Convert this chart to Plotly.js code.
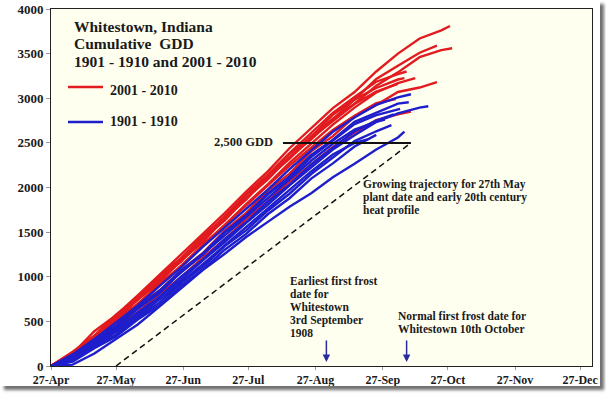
<!DOCTYPE html>
<html>
<head>
<meta charset="utf-8">
<script src="https://cdn.plot.ly/plotly-3.0.1.min.js"></script>
<style>
  html, body { margin: 0; padding: 0; background: #ffffff; }
  #chart { position: absolute; left: 0; top: 0; width: 600px; height: 386px;
           box-shadow: 4px 4px 3px #707070; background: #ffffff; }
</style>
</head>
<body>
<div id="chart"></div>
<script>
// ---- Data ----
// sample dates every 10 days from 27-Apr
const gridDates = ['2001-04-27','2001-05-07','2001-05-17','2001-05-27','2001-06-06','2001-06-16',
  '2001-06-26','2001-07-06','2001-07-16','2001-07-26','2001-08-05','2001-08-15','2001-08-25',
  '2001-09-04','2001-09-14','2001-09-24','2001-10-04','2001-10-14','2001-10-24'];

// 2001 - 2010 cumulative GDD (red); last value belongs to the end date
const redEnds = ['2001-10-28','2001-10-29','2001-10-22','2001-10-07','2001-10-12',
  '2001-10-22','2001-10-10','2001-10-03','2001-10-04','2001-10-08'];
const redLines = [
  [0,140,390,570,790,1020,1240,1480,1710,1955,2180,2440,2660,2890,3070,3300,3500,3670,3760,3810],
  [0,135,320,550,740,970,1170,1420,1630,1880,2090,2340,2540,2770,2940,3140,3290,3460,3540,3560],
  [0,160,340,575,765,1015,1205,1455,1655,1915,2115,2375,2565,2815,2985,3215,3365,3510,3590],
  [0,120,335,505,745,935,1185,1385,1655,1865,2125,2325,2575,2765,2985,3115,3210,3225],
  [0,115,295,505,695,905,1115,1355,1575,1815,2035,2275,2485,2705,2895,3065,3170,3225],
  [0,100,295,455,675,845,1075,1265,1515,1715,1965,2155,2405,2575,2795,2925,3070,3120,3180],
  [0,95,255,435,605,805,995,1215,1415,1645,1845,2065,2255,2455,2615,2755,2820,2850],
  [0,130,305,505,695,915,1125,1355,1575,1805,2015,2245,2445,2645,2805,2945,2990],
  [0,140,335,525,745,955,1185,1405,1655,1875,2115,2325,2555,2745,2935,3075,3160],
  [0,150,335,555,765,995,1205,1445,1675,1925,2145,2385,2605,2835,3015,3185,3270,3300]
];

// 1901 - 1910 cumulative GDD (blue)
const blueEnds = ['2001-10-10','2001-10-09','2001-10-18','2001-10-07','2001-10-02',
  '2001-09-28','2001-10-01','2001-10-05','2001-09-24','2001-09-20'];
const blueLines = [
  [0,130,300,485,675,895,1105,1335,1545,1765,1975,2205,2415,2625,2785,2925,3010,3045],
  [0,100,280,425,645,815,1055,1245,1495,1685,1935,2125,2365,2535,2735,2835,2940,2955],
  [0,90,240,405,575,775,965,1185,1385,1605,1805,2025,2225,2425,2585,2735,2830,2895,2910],
  [0,15,140,305,465,665,865,1075,1255,1445,1615,1785,1935,2115,2265,2425,2560,2625],
  [0,90,260,400,600,770,1000,1190,1420,1610,1840,2030,2260,2440,2630,2750,2820],
  [0,120,280,450,640,840,1040,1250,1460,1670,1880,2090,2300,2490,2650,2735,2760],
  [0,70,220,350,540,710,930,1110,1340,1520,1740,1930,2150,2330,2520,2630,2700],
  [0,110,300,450,660,840,1070,1260,1500,1690,1920,2110,2340,2520,2710,2810,2870,2880],
  [0,50,200,330,520,680,900,1080,1300,1480,1700,1880,2100,2270,2460,2590],
  [0,90,230,380,550,740,940,1140,1350,1560,1770,1980,2180,2370,2500,2540]
];

// reference lines
const trajDates = ['2001-05-27','2001-10-10'];
const trajGDD = [0, 2500];
const targetDates = ['2001-08-12','2001-10-10'];
const targetGDD = [2500, 2500];
const frostDates = ['2001-09-01','2001-10-08'];

// axes
const xTickVals = ['2001-04-27','2001-05-27','2001-06-27','2001-07-27','2001-08-27',
  '2001-09-27','2001-10-27','2001-11-27','2001-12-27'];
const xTickText = ['27-Apr','27-May','27-Jun','27-Jul','27-Aug','27-Sep','27-Oct','27-Nov','27-Dec'];
const yTickVals = [0,500,1000,1500,2000,2500,3000,3500,4000];
const yTickText = ['0','500','1000','1500','2000','2500','3000','3500','4000'];

// ---- Build ----
const RED = '#E11B1F', BLUE = '#1E1ECC';
const FONT = 'Liberation Serif, Times New Roman, serif';
const TXT = '#1a1a1a';

function xsFor(vals, endDate) {
  return gridDates.slice(0, vals.length - 1).concat([endDate]);
}
const traces = [];
redLines.forEach((v, i) => traces.push({
  x: xsFor(v, redEnds[i]), y: v, type: 'scatter', mode: 'lines',
  line: {color: RED, width: 2.4}, hoverinfo: 'skip', showlegend: false
}));
blueLines.forEach((v, i) => traces.push({
  x: xsFor(v, blueEnds[i]), y: v, type: 'scatter', mode: 'lines',
  line: {color: BLUE, width: 2.4}, hoverinfo: 'skip', showlegend: false
}));
traces.push({x: trajDates, y: trajGDD, type: 'scatter', mode: 'lines',
  line: {color: '#111', width: 1.5, dash: '6px,4px'}, showlegend: false, hoverinfo: 'skip'});
traces.push({x: targetDates, y: targetGDD, type: 'scatter', mode: 'lines',
  line: {color: '#111', width: 2}, showlegend: false, hoverinfo: 'skip'});

// helper: pixel -> paper for text placement
const L = 51, R = 592, T = 9, B = 366;
const px = x => (x - L) / (R - L);
const py = y => (B - y) / (B - T);

function txt(text, x, y, size, anchor) {
  return {text: text, xref: 'paper', yref: 'paper', x: px(x), y: py(y),
    xanchor: anchor || 'left', yanchor: 'middle', showarrow: false, borderpad: 0,
    font: {family: FONT, size: size, color: TXT, weight: 'bold'}};
}

const annotations = [
  txt('Whitestown, Indiana', 73, 26, 15.5),
  txt('Cumulative  GDD', 73, 43.5, 15.5),
  txt('1901 - 1910 and 2001 - 2010', 73, 61, 15.5),
  txt('2001 - 2010', 109, 91, 14),
  txt('1901 - 1910', 109, 121, 14),
  txt('2,500 GDD', 274, 142, 12.5, 'right'),
  txt('Growing trajectory for 27th May', 362, 184, 11.5),
  txt('plant date and early 20th century', 362, 197, 11.5),
  txt('heat profile', 362, 210, 11.5),
  txt('Earliest first frost', 289, 281, 11.5),
  txt('date for', 289, 294, 11.5),
  txt('Whitestown', 289, 307, 11.5),
  txt('3rd September', 289, 320, 11.5),
  txt('1908', 289, 333, 11.5),
  txt('Normal first frost date for', 397, 316, 11.5),
  txt('Whitestown 10th October', 397, 329, 11.5)
];
frostDates.forEach(d => annotations.push({
  x: d, y: 45, xref: 'x', yref: 'y', text: '', showarrow: true,
  ax: 0, ay: -23, arrowhead: 2, arrowsize: 1, arrowwidth: 1.5, arrowcolor: '#2A2AA0', standoff: 0
}));

const shapes = [
  {type: 'line', xref: 'paper', yref: 'paper', x0: px(68), x1: px(103), y0: py(87), y1: py(87),
   line: {color: RED, width: 2.5}},
  {type: 'line', xref: 'paper', yref: 'paper', x0: px(68), x1: px(103), y0: py(122), y1: py(122),
   line: {color: BLUE, width: 2.5}}
];

const layout = {
  width: 600, height: 386,
  margin: {l: L, r: 600 - R, t: T, b: 386 - B, pad: 0},
  paper_bgcolor: '#ffffff', plot_bgcolor: '#FFFFF0',
  showlegend: false,
  xaxis: {
    type: 'date', range: ['2001-04-27', '2002-01-01 12:00'],
    tickvals: xTickVals, ticktext: xTickText,
    ticks: 'outside', ticklen: 3, tickcolor: '#999',
    tickfont: {family: FONT, size: 12, color: TXT, weight: 'bold'},
    showgrid: false, zeroline: false,
    showline: true, mirror: true, linecolor: '#222', linewidth: 1
  },
  yaxis: {
    range: [0, 4000], tickvals: yTickVals, ticktext: yTickText,
    ticks: 'outside', ticklen: 4, tickcolor: '#999',
    tickfont: {family: FONT, size: 13, color: TXT, weight: 'bold'},
    showgrid: false, zeroline: false,
    showline: true, mirror: true, linecolor: '#222', linewidth: 1
  },
  annotations: annotations,
  shapes: shapes
};

Plotly.newPlot('chart', traces, layout, {staticPlot: true, displayModeBar: false});
</script>
</body>
</html>
